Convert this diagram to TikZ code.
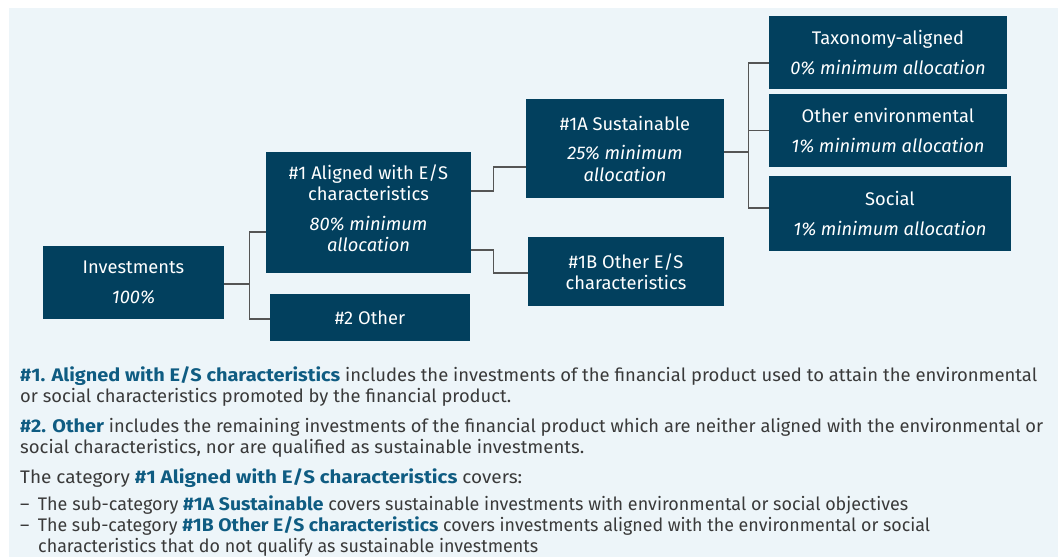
\documentclass[tikz,border=0pt]{standalone}
\usepackage{fontspec}
\usepackage{graphicx}
\setmainfont{Fira Sans}[BoldFeatures={FakeStretch=1.08}]
\usetikzlibrary{calc}
\definecolor{boxc}{HTML}{02405E}
\definecolor{bgc}{HTML}{EDF5F9}
\definecolor{hlc}{HTML}{0F5C82}
\definecolor{txc}{HTML}{3A3A3A}
\definecolor{lnc}{HTML}{555555}
\newcommand{\hl}[1]{{\color{hlc}\bfseries #1}}
\newcommand{\fitline}[2]{\resizebox{#1pt}{\height}{#2}}
\begin{document}
\begin{tikzpicture}[x=1pt,y=-1pt,
  box/.style={fill=boxc,text=white,inner sep=0pt,align=center,font=\fontsize{18.3}{21.5}\selectfont},
  conn/.style={draw=lnc,line width=1.3pt},
  body/.style={text=txc,inner sep=0pt,anchor=base west,font=\fontsize{18.2}{20}\selectfont}]
\useasboundingbox (0,0) rectangle (1061,557);
\fill[bgc] (9,8) rectangle (1058,557);
% boxes
\node[box,minimum width=181pt,minimum height=73pt] (inv) at (133.5,282.5) {Investments\\[8pt]\itshape 100\%};
\node[box,minimum width=205pt,minimum height=121pt] (a1) at (368.5,212.5) {\#1 Aligned with E/S\\characteristics\\[8pt]\itshape 80\% minimum\\\itshape allocation\\[-13pt]\mbox{}};
\node[box,minimum width=200pt,minimum height=47pt] (o2) at (370,317.5) {\#2 Other};
\node[box,minimum width=198pt,minimum height=99pt] (s1a) at (625,148.5) {\#1A Sustainable\\[8pt]\itshape 25\% minimum\\\itshape allocation};
\node[box,minimum width=196pt,minimum height=69pt] (o1b) at (626,271.5) {\#1B Other E/S\\characteristics};
\node[box,minimum width=238pt,minimum height=73pt] (tax) at (888,52.5) {Taxonomy-aligned\\[8.5pt]\itshape 0\% minimum allocation};
\node[box,minimum width=238pt,minimum height=73pt] (env) at (888,130.5) {Other environmental\\[8.5pt]\itshape 1\% minimum allocation};
\node[box,minimum width=242pt,minimum height=75pt] (soc) at (890,213.5) {Social\\[8.5pt]\itshape 1\% minimum allocation};
% connectors
\draw[conn] ([yshift=-1.5pt]inv.east) -- ++(25,0) coordinate (j1);
\draw[conn] ([yshift=-19.5pt]a1.west) -| (j1) |- ([yshift=-1.5pt]o2.west);
\draw[conn] ([yshift=21.5pt]a1.east) -- ++(22,0) |- ([yshift=-18.5pt]s1a.west);
\draw[conn] ([yshift=-37.5pt]a1.east) -- ++(22,0) |- ([yshift=-1.5pt]o1b.west);
\draw[conn] ([yshift=-3.5pt]s1a.east) -- ++(24,0) coordinate (j2);
\draw[conn] ([yshift=-10.5pt]tax.west) -| (j2) |- ([yshift=5.5pt]soc.west);
\draw[conn] (env.west) -- (env.west -| j2);
% text
\node[body] (t1) at (20,381) {\fitline{1017}{\hl{\#1. Aligned with E/S characteristics} includes the investments of the financial product used to attain the environmental}};
\node[body] (t2) at (20,402) {\fitline{491}{or social characteristics promoted by the financial product.}};
\node[body] (t3) at (20,432) {\fitline{1023}{\hl{\#2. Other} includes the remaining investments of the financial product which are neither aligned with the environmental or}};
\node[body] (t4) at (20,453) {\fitline{564}{social characteristics, nor are qualified as sustainable investments.}};
\node[body] (t5) at (20,483) {\fitline{502}{The category \hl{\#1 Aligned with E/S characteristics} covers:}};
\node[body] (t6) at (20,510) {\fitline{888}{\makebox[18pt][l]{–}The sub-category \hl{\#1A Sustainable} covers sustainable investments with environmental or social objectives}};
\node[body] (t7) at (20,531) {\fitline{910}{\makebox[18pt][l]{–}The sub-category \hl{\#1B Other E/S characteristics} covers investments aligned with the environmental or social}};
\node[body] (t8) at (38,552) {\fitline{500}{characteristics that do not qualify as sustainable investments}};
\end{tikzpicture}
\end{document}
